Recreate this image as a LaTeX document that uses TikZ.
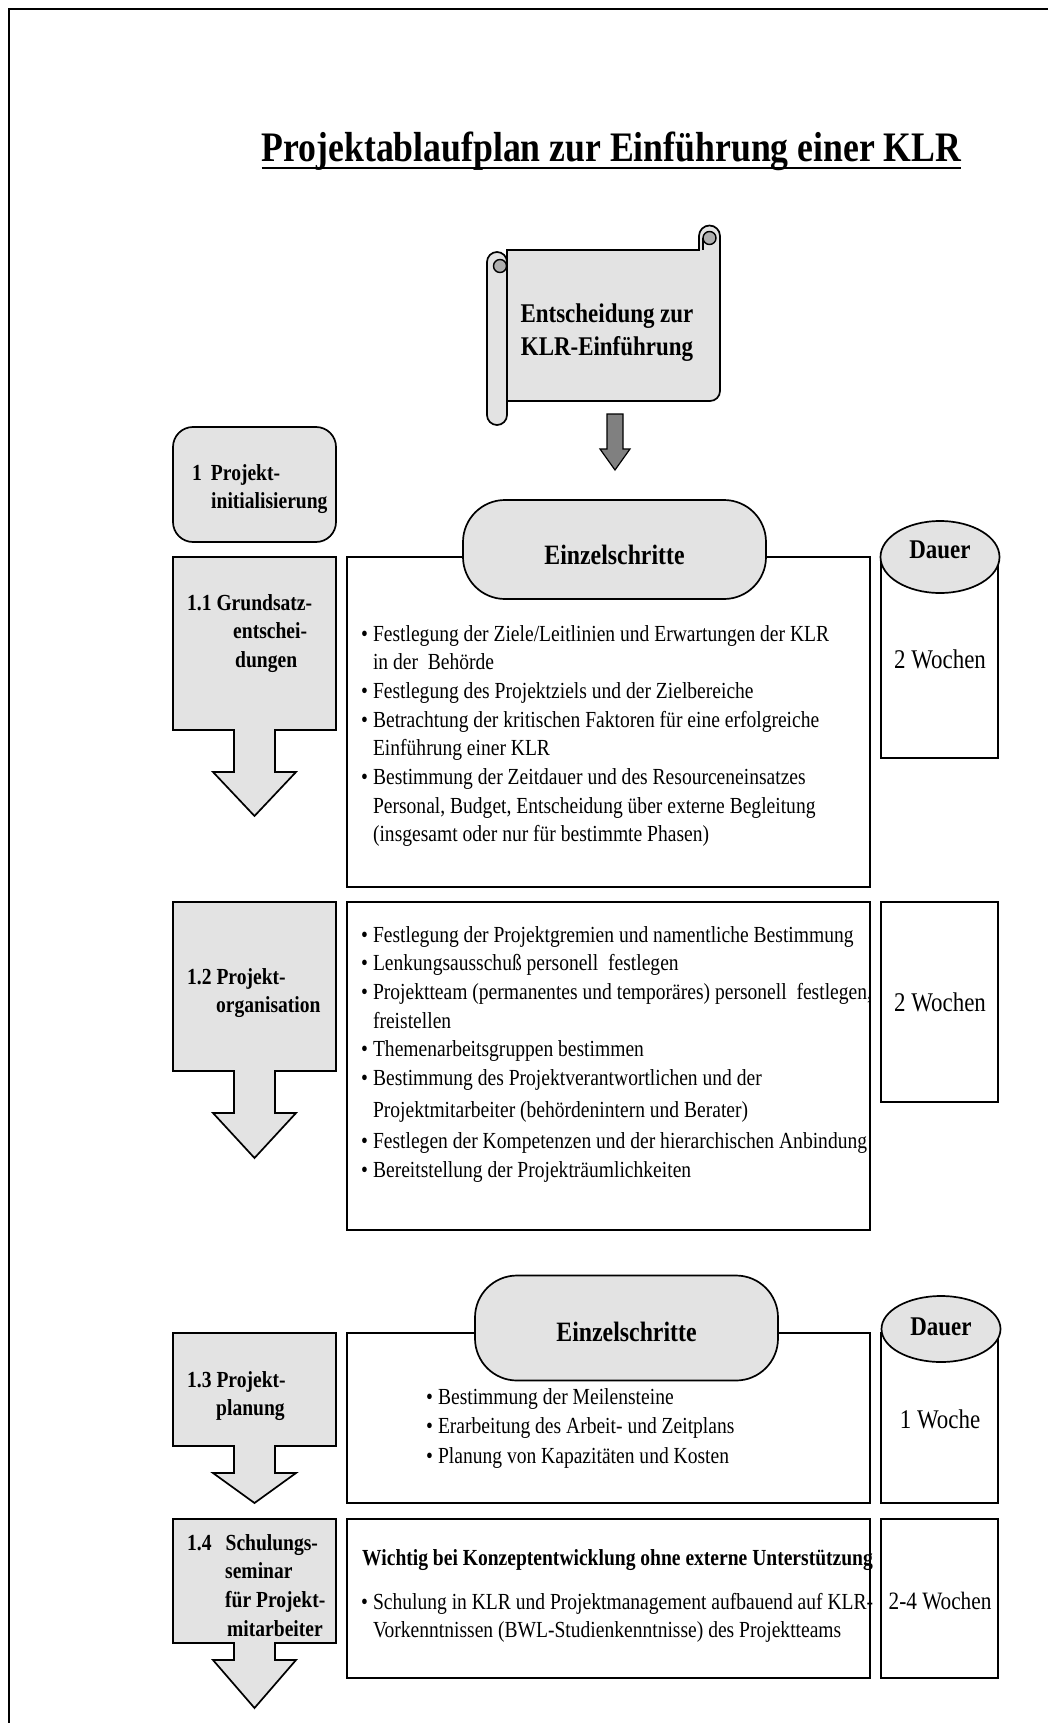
\documentclass[tikz,border=0pt]{standalone}
\usepackage{fontspec}
\setmainfont{Liberation Serif}[FakeStretch=0.85]
\usetikzlibrary{shapes.geometric}

\definecolor{boxgray}{RGB}{227,227,227}
\definecolor{curlgray}{RGB}{175,175,175}
\definecolor{arrowgray}{RGB}{128,128,128}

% left-aligned block of lines whose baseline is the first line
\newcommand\lines[1]{\begin{tabular}[t]{@{}l@{}}#1\end{tabular}}
\newcommand\bl{•\hspace{5pt}}
\newcommand\ind{\hphantom{•\hspace{5pt}}}
% grey phase box with a block arrow below: top, bottom, arrow head start, tip
\newcommand\stagebox[4]{%
  \draw[graybox] (173,#1) -- (336,#1) -- (336,#2) -- (275,#2) -- (275,#3)
    -- (296,#3) -- (254.5,#4) -- (213,#3) -- (234,#3) -- (234,#2)
    -- (173,#2) -- cycle;}

\begin{document}
\begin{tikzpicture}[x=1pt,y=-1pt,
  outline/.style={draw=black, line width=1.7pt},
  graybox/.style={outline, fill=boxgray},
  whitebox/.style={outline, fill=white},
  bodytext/.style={anchor=base west, inner sep=0pt,
    font=\fontsize{23}{28.7}\selectfont},
  labeltext/.style={anchor=base west, inner sep=0pt,
    font=\fontsize{23}{28.7}\selectfont\bfseries},
  durtext/.style={anchor=base, inner sep=0pt,
    font=\fontsize{27}{32}\selectfont},
  oval/.style={graybox, rounded corners=42pt, minimum width=303pt,
    inner sep=0pt, font=\fontsize{28}{32}\selectfont\bfseries},
  dauer/.style={graybox, ellipse, minimum width=119pt, minimum height=72pt,
    inner sep=0pt, font=\fontsize{27}{32}\selectfont\bfseries}]

\useasboundingbox (0,0) rectangle (1047,1723);

% page frame
\draw[line width=2.6pt] (9,1730) -- (9,9) -- (1060,9);

% title
\node[anchor=base, inner sep=0pt, font=\fontsize{42}{50}\selectfont\bfseries]
  (title) at (611.5,162) {Projektablaufplan zur Einführung einer KLR};
\draw[line width=2.6pt] ([yshift=-6pt]title.base west) -- ([yshift=-6pt]title.base east);

% scroll: decision
\draw[graybox] (507,250) -- (699,250) -- (699,236)
  arc[start angle=180, end angle=360, radius=10.5] -- (720,391)
  arc[start angle=0, end angle=90, radius=10] -- (507,401) -- cycle;
\draw[line width=1.4pt, fill=curlgray] (709.5,238) circle[radius=6.5];
\draw[line width=1.4pt] (703,238) -- (703,250);
\draw[graybox, rounded corners=10pt] (487,252) rectangle (507,425);
\draw[line width=1.4pt, fill=curlgray] (500,266) circle[radius=6.5];
\node[anchor=base, inner sep=0pt, align=center,
  font=\fontsize{27}{33}\selectfont\bfseries] (decision) at (607,322)
  {\begin{tabular}[t]{@{}c@{}}Entscheidung zur\\KLR-Einführung\end{tabular}};

% arrow from the decision to the first phase
\draw[line width=1.2pt, fill=arrowgray] (607,414) -- (623,414) -- (623,449)
  -- (630,449) -- (615,470) -- (600,449) -- (607,449) -- cycle;

% phase 1
\draw[graybox, rounded corners=20pt] (173,427) rectangle (336,542);
\node[labeltext] (l1) at (192,480)
  {\lines{1\hspace{9pt}Projekt-\\\hspace*{19pt}initialisierung}};

% ---------- 1.1 ----------
\stagebox{557}{730}{772}{816}
\node[labeltext] (l11) at (187,610)
  {\lines{1.1 Grundsatz-\\\hspace*{46pt}entschei-\\\hspace*{48pt}dungen}};
\draw[whitebox] (347,557) rectangle (870,887);
\draw[whitebox] (881,557) rectangle (998,758);
\node[oval, minimum height=99pt] (e1) at (614.5,549.5)
  {\raisebox{-14.5pt}[0pt][0pt]{Einzelschritte}};
\node[dauer] (d1) at (940,557) {\raisebox{-1pt}[0pt][0pt]{Dauer}};
\node[bodytext] (t11) at (361,641) {\lines{%
  \bl Festlegung der Ziele/Leitlinien und Erwartungen der KLR\\
  \ind in der\ \ Behörde\\
  \bl Festlegung des Projektziels und der Zielbereiche\\
  \bl Betrachtung der kritischen Faktoren für eine erfolgreiche\\
  \ind Einführung einer KLR\\
  \bl Bestimmung der Zeitdauer und des Resourceneinsatzes\\
  \ind Personal, Budget, Entscheidung über externe Begleitung\\
  \ind (insgesamt oder nur für bestimmte Phasen)}};
\node[durtext] (w11) at (940,668) {2 Wochen};

% ---------- 1.2 ----------
\stagebox{902}{1071}{1113}{1158}
\node[labeltext] (l12) at (187,984)
  {\lines{1.2 Projekt-\\\hspace*{29pt}organisation}};
\draw[whitebox] (347,902) rectangle (870,1230);
\draw[whitebox] (881,902) rectangle (998,1102);
\node[bodytext] (t12) at (361,942) {\lines{%
  \bl Festlegung der Projektgremien und namentliche Bestimmung\\
  \bl Lenkungsausschuß personell\ \ festlegen\\
  \bl Projektteam (permanentes und temporäres) personell\ \ festlegen,\\
  \ind freistellen\\
  \bl Themenarbeitsgruppen bestimmen\\
  \bl Bestimmung des Projektverantwortlichen und der\\[3pt]
  \ind Projektmitarbeiter (behördenintern und Berater)\\[3pt]
  \bl Festlegen der Kompetenzen und der hierarchischen Anbindung\\
  \bl Bereitstellung der Projekträumlichkeiten}};
\node[durtext] (w12) at (940,1011) {2 Wochen};

% ---------- 1.3 ----------
\stagebox{1333}{1446}{1473}{1503}
\node[labeltext] (l13) at (187,1387)
  {\lines{1.3 Projekt-\\\hspace*{29pt}planung}};
\draw[whitebox] (347,1333) rectangle (870,1503);
\draw[whitebox] (881,1333) rectangle (998,1503);
\node[oval, minimum height=105pt] (e2) at (626.5,1328)
  {\raisebox{-13pt}[0pt][0pt]{Einzelschritte}};
\node[dauer, minimum height=66pt] (d2) at (941,1329) {\raisebox{-6pt}[0pt][0pt]{Dauer}};
\node[bodytext] (t13) at (426,1404) {\lines{%
  \bl Bestimmung der Meilensteine\\[1pt]
  \bl Erarbeitung des Arbeit- und Zeitplans\\[1pt]
  \bl Planung von Kapazitäten und Kosten}};
\node[durtext] (w13) at (940,1428) {1 Woche};

% ---------- 1.4 ----------
\stagebox{1519}{1643}{1660}{1708}
\node[labeltext] (l14) at (187,1550)
  {\lines{1.4\hspace{14pt}Schulungs-\\\hspace*{38pt}seminar\\
   \hspace*{38pt}für Projekt-\\\hspace*{40pt}mitarbeiter}};
\draw[whitebox] (347,1519) rectangle (870,1678);
\draw[whitebox] (881,1519) rectangle (998,1678);
\node[labeltext] (h14) at (362,1565)
  {Wichtig bei Konzeptentwicklung ohne externe Unterstützung};
\node[bodytext] (t14) at (361,1609) {\lines{%
  \bl Schulung in KLR und Projektmanagement aufbauend auf KLR-\\
  \ind Vorkenntnissen (BWL-Studienkenntnisse) des Projektteams}};
\node[durtext, font=\fontsize{25}{30}\selectfont] (w14) at (940,1609) {2-4 Wochen};

\end{tikzpicture}
\end{document}
